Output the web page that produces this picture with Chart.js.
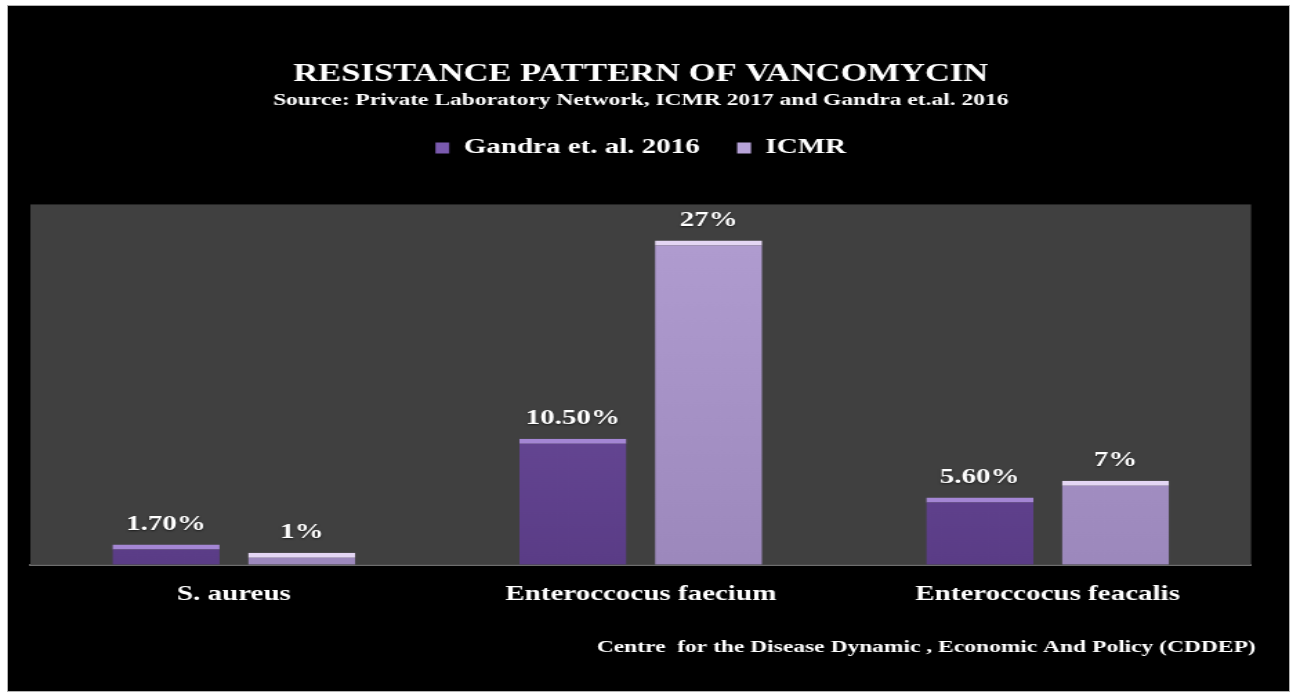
<!DOCTYPE html>
<html>
<head>
<meta charset="utf-8">
<title>Resistance pattern of Vancomycin</title>
<script src="https://cdn.jsdelivr.net/npm/chart.js@4.4.0/dist/chart.umd.min.js"></script>
<style>
    body { margin: 0; background: #fff; width: 1298px; height: 699px; overflow: hidden; }
    #panel {
        position: absolute; left: 7px; top: 5px; width: 1281px; height: 685px;
        background: #000; border: 1px solid #b0b0b0;
    }
    /* the original slide text is wide, so the chart is stretched sideways */
    #wrap {
        position: absolute; left: 0; top: 0; width: 940.6px; height: 699px;
        transform: scaleX(1.38); transform-origin: 0 0;
    }
</style>
</head>
<body>
<div id="panel"></div>
<div id="wrap"><canvas id="chart"></canvas></div>

<script>
// Data
const categories = ['S. aureus', 'Enteroccocus faecium', 'Enteroccocus feacalis'];
const gandra = [1.7, 10.5, 5.6];
const icmr = [1, 27, 7];
const seriesNames = ['Gandra et. al. 2016', 'ICMR'];

// grey plot frame ends at 30%, the hidden axis goes a bit higher to leave room under the legend
const frameTop = 30;
const axisMax = 33;

const serif = 'Liberation Serif, Times New Roman, serif';

// Bar fills, light top edge like the bevelled slide bars
function barGradient(ctx, top, bottom, fallback) {
    const area = ctx.chart.chartArea;
    if (!area) return fallback;
    const g = ctx.chart.ctx.createLinearGradient(0, area.top, 0, area.bottom);
    g.addColorStop(0, top);
    g.addColorStop(1, bottom);
    return g;
}

// Grey plot background
const plotBackground = {
    id: 'plotBackground',
    beforeDatasetsDraw(chart) {
        const {ctx, chartArea, scales} = chart;
        const top = scales.y.getPixelForValue(frameTop);
        ctx.save();
        ctx.fillStyle = '#404040';
        ctx.fillRect(chartArea.left, top, chartArea.right - chartArea.left, chartArea.bottom - top);
        ctx.restore();
    }
};

// Value labels above the bars
const valueLabels = {
    id: 'valueLabels',
    afterDatasetsDraw(chart) {
        const ctx = chart.ctx;
        ctx.save();
        ctx.fillStyle = '#ffffff';
        ctx.font = 'bold 21px ' + serif;
        ctx.textAlign = 'center';
        ctx.textBaseline = 'middle';
        ctx.shadowColor = 'rgba(0,0,0,0.6)';
        ctx.shadowBlur = 2;
        ctx.shadowOffsetY = 1;
        chart.data.datasets.forEach((ds, i) => {
            chart.getDatasetMeta(i).data.forEach((bar, j) => {
                const text = ds.data[j].toFixed(ds.decimals) + '%';
                ctx.fillText(text, bar.x, bar.y - 20);
            });
        });
        ctx.restore();
    }
};

// Source line under the chart
const footerNote = {
    id: 'footerNote',
    afterDraw(chart) {
        const ctx = chart.ctx;
        ctx.save();
        ctx.fillStyle = '#ffffff';
        ctx.font = 'bold 17px ' + serif;
        ctx.textAlign = 'right';
        ctx.textBaseline = 'middle';
        ctx.fillText('Centre  for the Disease Dynamic , Economic And Policy (CDDEP)', 909, 648);
        ctx.restore();
    }
};

new Chart(document.getElementById('chart'), {
    type: 'bar',
    data: {
        labels: categories,
        datasets: [{
            label: seriesNames[0],
            data: gandra,
            decimals: 2,
            backgroundColor: (c) => barGradient(c, '#7858aa', '#5a3c86', '#6b4c9a'),
            borderColor: '#a486d4',
            borderWidth: {top: 5, left: 0, right: 0, bottom: 0},
            borderSkipped: 'bottom'
        }, {
            label: seriesNames[1],
            data: icmr,
            decimals: 0,
            backgroundColor: (c) => barGradient(c, '#b4a0d4', '#9c88bc', '#a895c8'),
            borderColor: '#e4d6f4',
            borderWidth: {top: 5, left: 0, right: 0, bottom: 0},
            borderSkipped: 'bottom'
        }]
    },
    options: {
        responsive: true,
        maintainAspectRatio: false,
        animation: false,
        layout: {
            padding: {left: 22, right: 35, top: 0, bottom: 83}
        },
        categoryPercentage: 0.667,
        barPercentage: 0.79,
        plugins: {
            title: {
                display: true,
                text: 'RESISTANCE PATTERN OF VANCOMYCIN',
                color: '#ffffff',
                font: {family: serif, size: 25, weight: 'bold'},
                padding: {top: 60, bottom: 0}
            },
            subtitle: {
                display: true,
                text: 'Source: Private Laboratory Network, ICMR 2017 and Gandra et.al. 2016',
                color: '#ffffff',
                font: {family: serif, size: 17, weight: 'bold'},
                padding: {top: 0, bottom: 0}
            },
            legend: {
                display: true,
                labels: {
                    color: '#ffffff',
                    font: {family: serif, size: 21, weight: 'bold'},
                    boxWidth: 10,
                    boxHeight: 11,
                    padding: 27,
                    generateLabels(chart) {
                        const fills = ['#7a5aae', '#b7a3d8'];
                        return chart.data.datasets.map((ds, i) => ({
                            text: ds.label,
                            fillStyle: fills[i],
                            strokeStyle: fills[i],
                            lineWidth: 0,
                            fontColor: '#ffffff',
                            datasetIndex: i
                        }));
                    }
                }
            },
            tooltip: {enabled: false}
        },
        scales: {
            x: {
                grid: {display: false},
                border: {display: true, color: '#6e6e6e', width: 2},
                ticks: {
                    color: '#ffffff',
                    font: {family: serif, size: 21, weight: 'bold'},
                    padding: 9
                }
            },
            y: {
                display: false,
                min: 0,
                max: axisMax
            }
        }
    },
    plugins: [plotBackground, valueLabels, footerNote]
});
</script>
</body>
</html>
